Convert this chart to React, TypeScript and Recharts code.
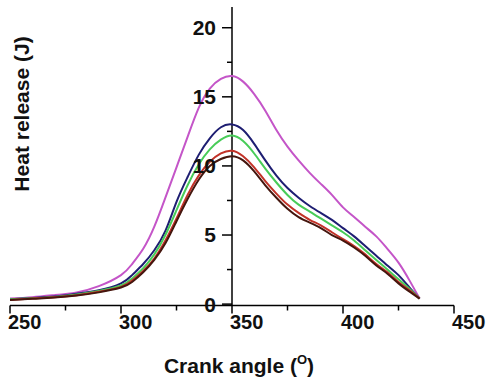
import { LineChart, Line, XAxis, YAxis, ReferenceLine, Label } from "recharts";

// crank angle (deg)
const angles = [
  250, 260, 270, 280, 290, 300, 305, 310, 315, 320, 325, 330, 335, 340, 345, 350, 355, 360, 365, 370,
  375, 380, 385, 390, 395, 400, 405, 410, 415, 420, 425, 430, 434.5,
];

// heat release (J)
const magenta = [
  0.4, 0.5, 0.65, 0.85, 1.3, 2.1, 2.9, 4.0, 5.6, 7.7, 9.9, 12.1, 14.2, 15.6, 16.3, 16.5, 16.1, 15.2, 14.0, 12.6,
  11.4, 10.4, 9.5, 8.7, 7.9, 7.0, 6.3, 5.6, 4.9, 4.0, 3.0, 1.7, 0.4,
];
const navy = [
  0.35, 0.45, 0.55, 0.75, 1.0, 1.5, 2.1, 2.9, 3.9, 5.3, 7.4, 9.2, 10.8, 12.0, 12.8, 13.0, 12.6, 11.6, 10.4, 9.3,
  8.4, 7.7, 7.1, 6.6, 6.1, 5.5, 4.9, 4.2, 3.5, 2.8, 2.1, 1.2, 0.4,
];
const green = [
  0.35, 0.42, 0.52, 0.7, 0.95, 1.35, 1.85, 2.6, 3.6, 5.0, 6.8, 8.6, 10.1, 11.2, 11.9, 12.2, 11.8, 10.9, 9.8, 8.8,
  7.9, 7.2, 6.7, 6.2, 5.7, 5.2, 4.6, 3.9, 3.2, 2.5, 1.8, 1.1, 0.4,
];
const red = [
  0.3, 0.4, 0.5, 0.65, 0.9, 1.25, 1.7, 2.4, 3.3, 4.6, 6.2, 7.9, 9.3, 10.3, 10.9, 11.1, 10.7, 9.9, 8.9, 8.0,
  7.2, 6.6, 6.1, 5.7, 5.2, 4.7, 4.2, 3.6, 2.9, 2.3, 1.6, 1.0, 0.4,
];
const brown = [
  0.3, 0.38, 0.48, 0.62, 0.85, 1.2, 1.6, 2.3, 3.2, 4.4, 6.0, 7.6, 9.0, 10.0, 10.5, 10.7, 10.4, 9.6, 8.6, 7.7,
  6.9, 6.3, 5.9, 5.5, 5.0, 4.6, 4.1, 3.5, 2.8, 2.2, 1.5, 0.9, 0.4,
];

const xTicks = [250, 275, 300, 325, 350, 375, 400, 425, 450];
const yMajorTicks = [0, 5, 10, 15, 20];
const yMinorTicks = [2.5, 7.5, 12.5, 17.5];

const series = [
  { key: "magenta", color: "#c455c8" },
  { key: "navy", color: "#1e1e72" },
  { key: "green", color: "#48cc58" },
  { key: "red", color: "#c23228" },
  { key: "brown", color: "#45160e" },
];

const data = angles.map((a, i) => ({
  angle: a,
  magenta: magenta[i],
  navy: navy[i],
  green: green[i],
  red: red[i],
  brown: brown[i],
}));

const font = "'Liberation Sans', Arial, sans-serif";

function XTick(props: any) {
  const { x, y, payload } = props;
  const major = payload.value % 50 === 0;
  return (
    <g>
      <line x1={x} x2={x} y1={y} y2={y + (major ? 8 : 5)} stroke="#000" strokeWidth={1.5} />
      {major && (
        <text x={x - 2} y={y + 23} textAnchor="start" fontFamily={font} fontWeight="bold" fontSize={20} fill="#111">
          {payload.value}
        </text>
      )}
    </g>
  );
}

function XTitle(props: any) {
  const { viewBox } = props;
  const cx = viewBox.x + viewBox.width / 2 + 7;
  return (
    <text x={cx} y={373} textAnchor="middle" fontFamily={font} fontWeight="bold" fontSize={21} fill="#111">
      Crank angle (<tspan fontSize={13} dy={-9}>O</tspan>
      <tspan dy={9}>)</tspan>
    </text>
  );
}

function YTitle() {
  return (
    <text
      x={29}
      y={114}
      transform="rotate(-90 29 114)"
      textAnchor="middle"
      fontFamily={font}
      fontWeight="bold"
      fontSize={21}
      fill="#111"
    >
      Heat release (J)
    </text>
  );
}

export default function App() {
  return (
    <div style={{ position: "absolute", left: 0, top: 0, width: 487, height: 383, background: "#fff" }}>
      <LineChart width={487} height={383} data={data} margin={{ top: 7, right: 33, left: 10, bottom: 0 }}>
        <XAxis
          dataKey="angle"
          type="number"
          domain={[250, 450]}
          ticks={xTicks}
          tick={<XTick />}
          tickLine={false}
          tickSize={0}
          tickMargin={0}
          interval={0}
          height={77.5}
          axisLine={{ stroke: "#000", strokeWidth: 1.5 }}
        >
          <Label content={<XTitle />} />
          <Label content={<YTitle />} />
        </XAxis>
        <YAxis hide domain={[-0.1, 21.5]} allowDataOverflow />
        <ReferenceLine x={350} stroke="#000" strokeWidth={1.5} />
        {yMinorTicks.map((v) => (
          <ReferenceLine
            key={"m" + v}
            segment={[
              { x: 347.75, y: v },
              { x: 350, y: v },
            ]}
            stroke="#000"
            strokeWidth={1.5}
          />
        ))}
        {yMajorTicks.map((v) => (
          <ReferenceLine
            key={"M" + v}
            segment={[
              { x: 345.5, y: v },
              { x: 350, y: v },
            ]}
            stroke="#000"
            strokeWidth={1.5}
            label={{
              value: String(v),
              position: "left",
              offset: 6,
              fontFamily: font,
              fontWeight: "bold",
              fontSize: 21,
              fill: "#111",
            }}
          />
        ))}
        {series.map((s) => (
          <Line
            key={s.key}
            type="natural"
            dataKey={s.key}
            stroke={s.color}
            strokeWidth={2}
            dot={false}
            isAnimationActive={false}
          />
        ))}
      </LineChart>
    </div>
  );
}
